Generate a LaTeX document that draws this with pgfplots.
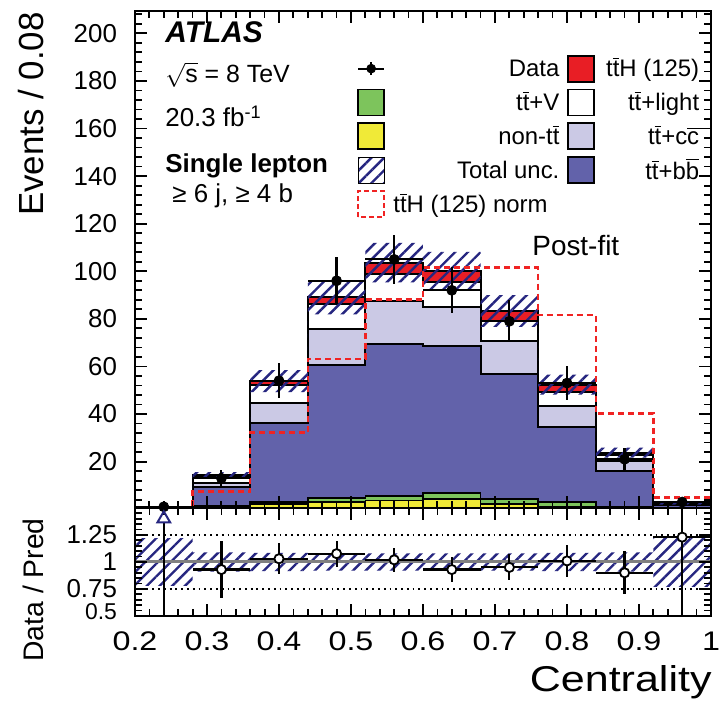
\documentclass[border=0pt]{standalone}
\usepackage{fontspec}
\setmainfont{Liberation Sans}
\newfontfamily\widefont{Liberation Sans}[FakeStretch=1.2]
\usepackage{pgfplots}
\usepackage{pgfplotstable}
\pgfplotsset{compat=1.18}
\usetikzlibrary{patterns.meta}

\definecolor{cttH}{RGB}{232,30,37}
\definecolor{cttV}{RGB}{125,196,92}
\definecolor{cnontt}{RGB}{240,234,55}
\definecolor{cttcc}{RGB}{203,201,229}
\definecolor{cttbb}{RGB}{98,98,170}
\definecolor{chatch}{RGB}{38,38,128}
\definecolor{cnorm}{RGB}{240,35,35}

\newcommand{\ttb}{t\ensuremath{\overline{\mbox{t}}}}
\newcommand{\cb}{\ensuremath{\overline{\mbox{c}}}}
\newcommand{\bb}{\ensuremath{\overline{\mbox{b}}}}

% stacked tops (cumulative), read at bin left edges; last row closes the last bin
\pgfplotstableread{
x    nontt ttV  ttbb  ttcc  ttlight ttH   norm
0.20 0.10  0.15 0.30  0.40  0.45    0.47  0.2
0.28 0.90  1.30 9.5   11.0  13.6    14.3  7.4
0.36 2.20  3.00 36.4  44.8  52.3    53.8  32.2
0.44 3.00  4.60 60.6  75.8  86.4    89.0  63.2
0.52 3.60  5.50 69.5  87.3  99.0    103.6 88.2
0.60 4.30  6.90 68.6  84.9  95.6    100.2 101.5
0.68 2.30  4.20 56.7  70.8  79.2    83.3  101.5
0.76 1.20  3.00 34.7  43.4  49.2    52.4  81.6
0.84 0.40  1.20 16.2  20.3  22.8    23.8  40.3
0.92 0.10  0.30 1.70  2.00  2.30    2.45  5.0
1.00 0.10  0.30 1.70  2.00  2.30    2.45  5.0
}\stack

% total uncertainty band (main panel), outline of the band
\pgfplotstableread{
x y
0.20 0.57
0.28 0.57
0.28 15.6
0.36 15.6
0.36 58.4
0.44 58.4
0.44 96.1
0.52 96.1
0.52 111.9
0.60 111.9
0.60 108.2
0.68 108.2
0.68 90.0
0.76 90.0
0.76 56.6
0.84 56.6
0.84 25.9
0.92 25.9
0.92 3.0
1.00 3.0
1.00 1.9
0.92 1.9
0.92 21.7
0.84 21.7
0.84 48.2
0.76 48.2
0.76 76.6
0.68 76.6
0.68 92.2
0.60 92.2
0.60 95.3
0.52 95.3
0.52 81.9
0.44 81.9
0.44 49.2
0.36 49.2
0.36 13.0
0.28 13.0
0.28 0.37
0.20 0.37
}\bandM

% total uncertainty band (ratio panel)
\pgfplotstableread{
x y
0.20 1.22
0.28 1.22
0.28 1.09
0.36 1.09
0.36 1.085
0.44 1.085
0.44 1.08
0.76 1.08
0.76 1.085
0.84 1.085
0.84 1.09
0.92 1.09
0.92 1.23
1.00 1.23
1.00 0.77
0.92 0.77
0.92 0.91
0.84 0.91
0.84 0.915
0.76 0.915
0.76 0.92
0.44 0.92
0.44 0.915
0.36 0.915
0.36 0.91
0.28 0.91
0.28 0.78
0.20 0.78
}\bandR

\pgfplotstableread{
x    y   ex   ey
0.24 1   0.04 1.0
0.32 13  0.04 3.6
0.40 54  0.04 7.3
0.48 96  0.04 9.8
0.56 105 0.04 10.2
0.64 92  0.04 9.6
0.72 79  0.04 8.9
0.80 53  0.04 7.3
0.88 21  0.04 4.6
0.96 3   0.04 1.7
}\data

\pgfplotstableread{
x    r     ex   e
0.32 0.93  0.04 0.26
0.40 1.03  0.04 0.145
0.48 1.077 0.04 0.12
0.56 1.02  0.04 0.11
0.64 0.93  0.04 0.115
0.72 0.95  0.04 0.12
0.80 1.01  0.04 0.145
0.88 0.90  0.04 0.20
0.96 1.23  0.04 0.72
}\ratio

\pgfplotsset{
  atl/.style={
    scale only axis, width=288bp,
    xmin=0.2, xmax=1.0,
    tick align=inside, tick pos=both,
    xticklabel pos=lower, yticklabel pos=left,
    major tick length=6bp, minor tick length=3.5bp,
    tick style={black, line width=0.9bp},
    axis line style={black, line width=1.2bp},
    /pgf/number format/assume math mode=true,
    xtick={0.2,0.3,0.4,0.5,0.6,0.7,0.8,0.9,1.0},
    minor x tick num=4,
    axis on top,
  },
  legbox/.style={legend image code/.code={
    \draw[black,line width=0.9bp,fill=#1] (0bp,-6.5bp) rectangle (13bp,6.5bp);}},
}

\begin{document}
\begin{tikzpicture}
\useasboundingbox (0bp,0bp) rectangle (359.5bp,360bp);

% ---------------- main panel ----------------
\begin{axis}[atl,
  at={(67.5bp,106bp)}, anchor=south west, height=248.5bp,
  ymin=0.5, ymax=209.4,
  ytick={20,40,60,80,100,120,140,160,180,200},
  minor ytick={4,8,...,208},
  xticklabel=\empty,
  yticklabel style={font=\fontsize{13}{15}\selectfont, xshift=-5.5bp},
  legend columns=2,
  legend cell align=left,
  legend style={at={(rel axis cs:0.3854,0.912)}, anchor=north west,
    draw=none, fill=none, inner sep=0pt, outer sep=0pt,
    row sep=3bp, column sep=4bp,
    font=\fontsize{12}{14}\selectfont,
    nodes={inner sep=0pt, outer sep=0pt}},
]
\addplot[const plot, fill=cttH, draw=black, line width=1bp, forget plot] table[x=x,y=ttH]{\stack} \closedcycle;
\addplot[const plot, fill=white, draw=black, line width=1bp, forget plot] table[x=x,y=ttlight]{\stack} \closedcycle;
\addplot[const plot, fill=cttcc, draw=black, line width=1bp, forget plot] table[x=x,y=ttcc]{\stack} \closedcycle;
\addplot[const plot, fill=cttbb, draw=black, line width=1bp, forget plot] table[x=x,y=ttbb]{\stack} \closedcycle;
\addplot[const plot, fill=cttV, draw=black, line width=0.8bp, forget plot] table[x=x,y=ttV]{\stack} \closedcycle;
\addplot[const plot, fill=cnontt, draw=black, line width=0.8bp, forget plot] table[x=x,y=nontt]{\stack} \closedcycle;
% uncertainty hatch
\addplot[draw=none, pattern={Lines[angle=45,distance=4.5bp,line width=1.2bp]}, pattern color=chatch, forget plot] table[x=x,y=y]{\bandM} -- cycle;
% ttH normalised
\addplot[const plot, draw=cnorm, line width=1.25bp, dash pattern=on 3bp off 2bp, forget plot] table[x=x,y=norm]{\stack};
% data
\addplot[black, forget plot, only marks, mark=*, mark size=2.5bp, mark options={fill=black},
  error bars/.cd, x dir=both, x explicit, y dir=both, y explicit, error mark=none,
  error bar style={line width=1.1bp, black}]
  table[x=x, y=y, x error=ex, y error=ey]{\data};

% legend
\addlegendimage{legend image code/.code={
  \draw[black,line width=1.1bp] (0bp,0bp) -- (13bp,0bp) (6.5bp,-3.3bp) -- (6.5bp,3.3bp);
  \fill[black] (6.5bp,0bp) circle (2.2bp);}}
\addlegendentry{\makebox[83bp][r]{\strut Data}}
\addlegendimage{legbox=cttH}
\addlegendentry{\makebox[48bp][r]{\strut\ttb H (125)}}
\addlegendimage{legbox=cttV}
\addlegendentry{\makebox[83bp][r]{\strut\ttb+V}}
\addlegendimage{legbox=white}
\addlegendentry{\makebox[48bp][r]{\strut\ttb+light}}
\addlegendimage{legbox=cnontt}
\addlegendentry{\makebox[83bp][r]{\strut non-\ttb}}
\addlegendimage{legbox=cttcc}
\addlegendentry{\makebox[48bp][r]{\strut\ttb+c\cb}}
\addlegendimage{legend image code/.code={
  \fill[pattern={Lines[angle=45,distance=4.5bp,line width=1.2bp]}, pattern color=chatch] (0bp,-6.5bp) rectangle (13bp,6.5bp);}}
\addlegendentry{\makebox[83bp][r]{\strut Total unc.}}
\addlegendimage{legbox=cttbb}
\addlegendentry{\makebox[48bp][r]{\strut\ttb+b\bb}}
\addlegendimage{legend image code/.code={
  \draw[cnorm,line width=1.2bp,dash pattern=on 2.5bp off 1.5bp,fill=white] (0bp,-6.5bp) rectangle (13bp,6.5bp);}}
\addlegendentry{\makebox[83bp][l]{\strut\ttb H (125) norm}}
\end{axis}

% ---------------- ratio panel ----------------
\begin{axis}[atl,
  at={(67.5bp,52bp)}, anchor=south west, height=54bp,
  ymin=0.5, ymax=1.5,
  ytick={0.5,0.75,1,1.25},
  yticklabels={\raisebox{4bp}{\fontsize{11.5}{13}\selectfont 0.5},0.75,1,1.25},
  minor ytick={0.55,0.6,0.65,0.7,0.8,0.85,0.9,0.95,1.05,1.1,1.15,1.2,1.3,1.35,1.4,1.45},
  xticklabels={0.2,0.3,0.4,0.5,0.6,0.7,0.8,0.9,1},
  yticklabel style={font=\fontsize{13}{15}\selectfont, xshift=-5.5bp},
  xticklabel style={font=\widefont\fontsize{13.5}{15}\selectfont, yshift=-4.5bp},
]
\addplot[draw=none, pattern={Lines[angle=45,distance=4.5bp,line width=1.2bp]}, pattern color=chatch] table[x=x,y=y]{\bandR} -- cycle;
\addplot[black!50, line width=1.5bp] coordinates {(0.2,1) (1.0,1)};
\addplot[black, line width=0.9bp, dotted] coordinates {(0.2,1.25) (1.0,1.25)};
\addplot[black, line width=0.9bp, dotted] coordinates {(0.2,0.75) (1.0,0.75)};
% off-scale first bin
\addplot[black, line width=1.1bp] coordinates {(0.24,0.5) (0.24,1.36)};
\addplot[only marks, mark=triangle, mark size=3.7bp, mark options={draw=chatch, fill=white, line width=1bp}] coordinates {(0.24,1.40)};
\addplot[black, only marks, mark=*, mark size=2.3bp, mark options={fill=white, draw=black, line width=0.9bp},
  error bars/.cd, x dir=both, x explicit, y dir=both, y explicit, error mark=none,
  error bar style={line width=1.1bp, black}]
  table[x=x, y=r, x error=ex, y error=e]{\ratio};
\end{axis}

% ---------------- texts ----------------
\node[anchor=base west, inner sep=0, font=\fontsize{15}{17}\selectfont\bfseries\itshape] at (82.5bp,338.5bp) {ATLAS};
\node[anchor=base west, inner sep=0, font=\fontsize{12.5}{15}\selectfont] at (82.5bp,318.5bp) {$\sqrt{\mbox{s}}$ = 8 TeV};
\node[anchor=base west, inner sep=0, font=\fontsize{13}{15}\selectfont] at (82.5bp,296.5bp) {20.3 fb\textsuperscript{-1}};
\node[anchor=base west, inner sep=0, font=\fontsize{13}{15}\selectfont\bfseries] at (82.5bp,273.5bp) {Single lepton};
\node[anchor=base west, inner sep=0, font=\fontsize{13}{15}\selectfont] at (86bp,258.5bp) {≥ 6 j, ≥ 4 b};
\node[anchor=base west, inner sep=0, font=\fontsize{14}{16}\selectfont] at (266bp,232bp) {Post-fit};
\node[rotate=90, anchor=base east, inner sep=0, font=\fontsize{17.5}{20}\selectfont] at (21.5bp,354bp) {Events / 0.08};
\node[rotate=90, anchor=base east, inner sep=0, font=\fontsize{14.2}{16}\selectfont] at (21.5bp,101bp) {Data / Pred};
\node[anchor=base east, inner sep=0, font=\widefont\fontsize{18}{20}\selectfont] at (356bp,14.5bp) {Centrality};
\end{tikzpicture}
\end{document}
